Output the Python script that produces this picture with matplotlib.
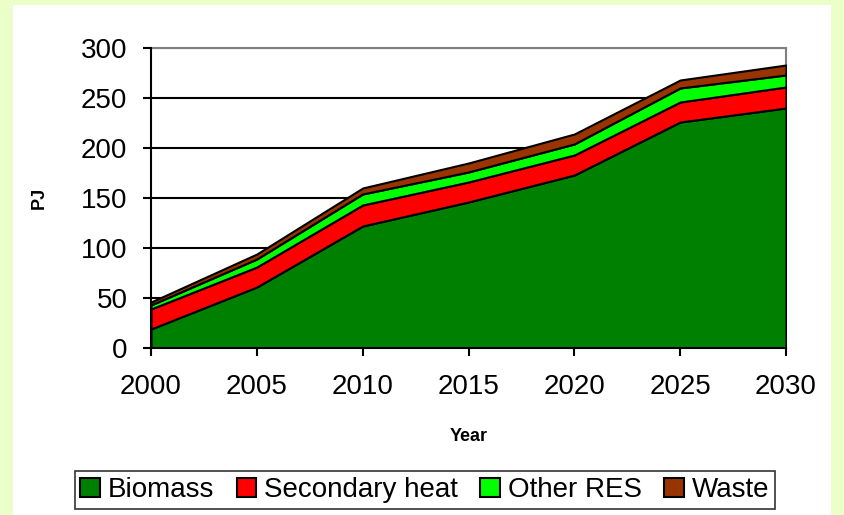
import matplotlib.pyplot as plt
from matplotlib.patches import Rectangle

# ---------- data ----------
years = [2000, 2005, 2010, 2015, 2020, 2025, 2030]
biomass = [19, 61, 122, 146, 173, 226, 240]
secondary_heat = [20, 20, 21, 20, 20, 20, 21]
other_res = [4, 8, 11, 10, 11, 14, 12]
waste = [3, 5, 6, 9, 10, 8, 10]

labels = ["Biomass", "Secondary heat", "Other RES", "Waste"]
colors = ["#008000", "#FF0000", "#00FF00", "#993300"]

plt.rcParams["font.family"] = ["Liberation Sans", "DejaVu Sans"]

W, H = 844, 515
fig = plt.figure(figsize=(W / 100, H / 100), dpi=100, facecolor="#EBFFC8")
fig.patches.append(Rectangle((13 / W, 0), (831 - 13) / W, (510 - 0) / H,
                             transform=fig.transFigure, facecolor="white",
                             edgecolor="none", zorder=-5))

ax = fig.add_axes([151 / W, (H - 348) / H, 635 / W, 300 / H])
ax.set_zorder(2)
ax.set_facecolor("white")

polys = ax.stackplot(years, biomass, secondary_heat, other_res, waste,
                     colors=colors, labels=labels,
                     edgecolor="black", linewidth=1.5, zorder=3)

ax.set_xlim(2000, 2030)
ax.set_ylim(0, 300)
ax.set_xticks(years)
ax.set_yticks(range(0, 301, 50))
ax.yaxis.grid(True, color="black", linewidth=1.5, zorder=1)
ax.set_axisbelow(True)

for side in ("top", "right"):
    ax.spines[side].set_color("#808080")
    ax.spines[side].set_linewidth(1.5)
for side in ("left", "bottom"):
    ax.spines[side].set_color("black")
    ax.spines[side].set_linewidth(1.5)
    ax.spines[side].set_zorder(5)

ax.tick_params(axis="both", direction="out", length=6, width=1.5,
               labelsize=20, colors="black")
ax.tick_params(axis="y", pad=11)
ax.tick_params(axis="x", pad=13)

ax.set_xlabel("Year", fontsize=13, fontweight="bold", labelpad=20)
ax.set_ylabel("PJ", fontsize=13, fontweight="bold", labelpad=24)

leg = fig.legend(handles=polys, labels=labels, loc="center",
                 bbox_to_anchor=(425 / W, 25 / H), ncol=4, fontsize=20,
                 frameon=True, fancybox=False, edgecolor="black",
                 handlelength=0.7, handleheight=0.7, handletextpad=0.3,
                 columnspacing=0.8, borderpad=0.2, borderaxespad=0)
leg.get_frame().set_linewidth(1.2)

fig.savefig("out.png", dpi=100, facecolor=fig.get_facecolor())
